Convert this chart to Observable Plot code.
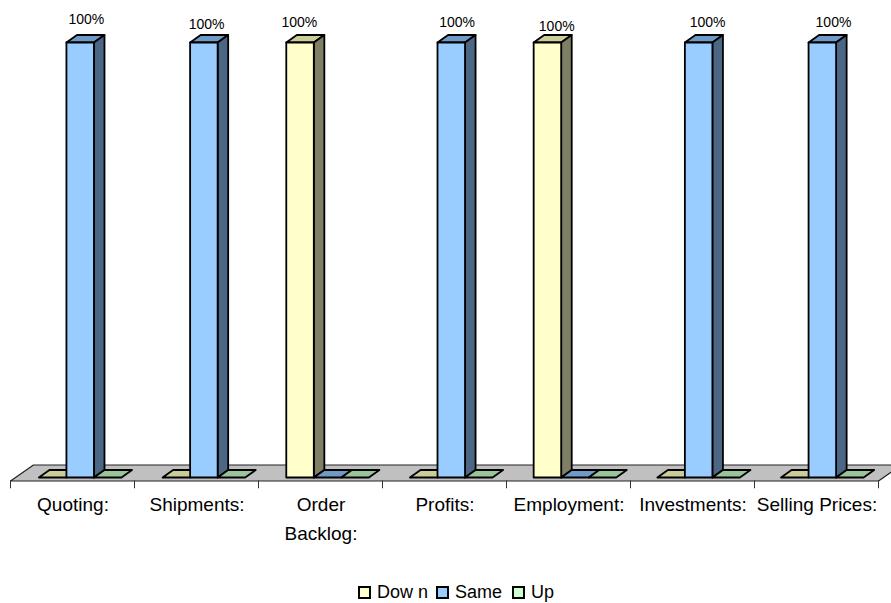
<!DOCTYPE html>
<html><head><meta charset="utf-8">
<script src="https://cdn.jsdelivr.net/npm/d3@7"></script>
<script src="https://cdn.jsdelivr.net/npm/@observablehq/plot@0.6"></script>
<style>
html,body{margin:0;padding:0;background:#fff;overflow:hidden}
svg{display:block;background:#fff}
#legend{position:absolute;left:0;top:580px;width:891px;height:23px;font:18px "Liberation Sans",Arial,sans-serif;color:#000}
#legend i{position:absolute;top:6px;width:9px;height:9px;border:2px solid #000;box-sizing:content-box}
#legend span{position:absolute;top:0;line-height:24px;white-space:pre}
</style></head><body>
<div id="chart"></div><div id="legend"></div>
<script>
const categories = ["Quoting:", "Shipments:", "Order\nBacklog:", "Profits:", "Employment:", "Investments:", "Selling Prices:"];
const seriesNames = ["Dow n", "Same", "Up"];
const down = [0, 0, 100, 0, 100, 0, 0];
const same = [100, 100, 0, 100, 0, 100, 100];
const up = [0, 0, 0, 0, 0, 0, 0];
const labelLift = [0.7, -0.46, 0, 0, -0.92, 0, 0];
const labelShift = [0.05, 0.02, -0.01, 0.04, 0.065, 0.06, 0.075];

const front = ["#FFFFCC", "#99CCFF", "#CCFFCC"];
const topFace = ["#CCCC99", "#6F99C6", "#99C499"];
const sideFace = ["#7F7F66", "#4C6685", "#668066"];
const values = [down, same, up];

const W = 891, H = 560;
const depthX = 0.085, depthY = 1.72, barW = 0.222, start = 0.229, barStep = 0.9975;
const floorFront = -0.8, floorBack = 2.87, floorDX = 0.185;

const polys = [];
let id = 0;
function poly(pts, fill){ id++; for (const [x,y] of pts) polys.push({x,y,id,fill}); }
categories.forEach((c,i)=>{
  values.forEach((vals,s)=>{
    const x0 = i*barStep + start + s*barW, x1 = x0 + barW, v = vals[i];
    poly([[x0,v],[x0+depthX,v+depthY],[x1+depthX,v+depthY],[x1,v]], topFace[s]);
    if (v > 0) {
      poly([[x1,0],[x1+depthX,depthY],[x1+depthX,v+depthY],[x1,v]], sideFace[s]);
      poly([[x0,0],[x1,0],[x1,v],[x0,v]], front[s]);
    }
  });
});
const n = categories.length;
const floor = [[0,floorFront],[floorDX,floorBack],[n+floorDX,floorBack],[n,floorFront]].map(([x,y])=>({x,y}));
const ticks = d3.range(n+1);
const labels = categories.map((c,i)=>{
  const s = values.findIndex(v=>v[i]>0);
  return {x:i+start+s*barW+barW/2+labelShift[i], y:100+labelLift[i], t:values[s][i]+"%"};
});

const plot = Plot.plot({
  width:W, height:H, margin:0,
  x:{domain:[0,n], range:[10,878], axis:null},
  y:{domain:[0,100], range:[477,42], axis:null},
  marks:[
    Plot.line(floor,{x:"x",y:"y",fill:"#C0C0C0",stroke:"#222",strokeWidth:1.2,curve:"linear-closed"}),
    Plot.ruleX(ticks,{x:d=>d,y1:floorFront,y2:floorFront-1.8,stroke:"#333",strokeWidth:1}),
    Plot.line(polys,{x:"x",y:"y",z:"id",fill:"fill",stroke:"#000",strokeWidth:1.8,strokeLinejoin:"round",curve:"linear-closed"}),
    Plot.text(labels,{x:"x",y:"y",text:"t",dy:-20,fontSize:14,fontFamily:"Liberation Sans",fill:"#000",letterSpacing:-0.3}),
    Plot.text(categories,{x:(d,i)=>i+0.5,y:()=>0,text:d=>d,dx:0.5,dy:13,lineAnchor:"top",lineHeight:1.53,fontSize:19,fontFamily:"Liberation Sans",fill:"#000"})
  ]
});
document.getElementById("chart").append(plot);
const lg = document.getElementById("legend");
[[358,377],[436,455],[512,531]].forEach(([a,b],i)=>{
  const sw=document.createElement("i"); sw.style.left=a+"px"; sw.style.background=front[i]; lg.append(sw);
  const t=document.createElement("span"); t.style.left=b+"px"; t.textContent=seriesNames[i]; lg.append(t);
});
</script></body></html>
